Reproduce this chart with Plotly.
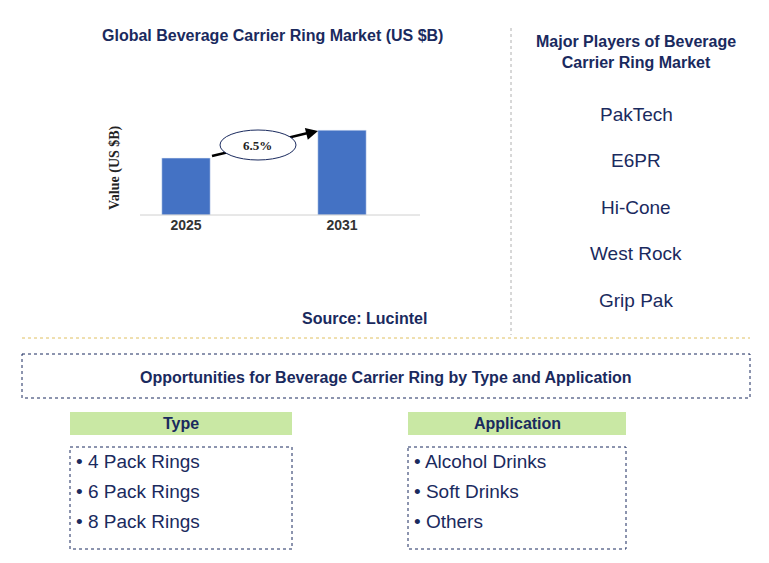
import plotly.graph_objects as go

years = ["2025", "2031"]
values = [2.0, 2.98]
cagr = "6.5%"
players = ["PakTech", "E6PR", "Hi-Cone", "West Rock", "Grip Pak"]
types = ["4 Pack Rings", "6 Pack Rings", "8 Pack Rings"]
apps = ["Alcohol Drinks", "Soft Drinks", "Others"]

W, H = 769, 563
NAVY = "#1a2a5e"
OFF = 8
def X(p): return (p - OFF) / W
def Y(p): return 1 - (p - OFF) / H

fig = go.Figure(go.Bar(x=years, y=values, marker_color="#4472c4", width=0.31))
fig.update_layout(
    width=W, height=H, margin=dict(l=0, r=0, t=0, b=0),
    paper_bgcolor="white", plot_bgcolor="white", showlegend=False,
    xaxis=dict(domain=[X(108), X(420)], range=[-0.5, 1.5], type="category",
               tickvals=years, ticktext=[f"<b>{y}</b>" for y in years],
               showline=False, ticks="", tickfont=dict(family="Arial", size=14, color="#333"), showgrid=False),
    yaxis=dict(domain=[Y(215), Y(100)], range=[0, 4.04], showticklabels=False,
               showgrid=False, zeroline=False, showline=False),
)
shapes = [
    dict(type="line", xref="paper", yref="paper", x0=X(140), x1=X(420), y0=Y(215), y1=Y(215),
         line=dict(color="#d0d0d0", width=1)),
    dict(type="line", xref="paper", yref="paper", x0=X(511), x1=X(511), y0=Y(28), y1=Y(335),
         line=dict(color="#b0b0b0", width=1, dash="dot")),
    dict(type="line", xref="paper", yref="paper", x0=X(22), x1=X(750), y0=Y(338), y1=Y(338),
         line=dict(color="#e0c060", width=1, dash="dot")),
    dict(type="rect", xref="paper", yref="paper", x0=X(22), x1=X(750), y0=Y(354), y1=Y(398),
         line=dict(color=NAVY, width=1, dash="dot")),
    dict(type="line", xref="paper", yref="paper", x0=X(212), x1=X(312), y0=Y(156), y1=Y(132),
         line=dict(color="black", width=2.5)),
    dict(type="circle", xref="paper", yref="paper", x0=X(220), x1=X(296), y0=Y(130), y1=Y(160),
         line=dict(color=NAVY, width=1), fillcolor="white", layer="above"),
]
for x0, x1 in [(70, 292), (408, 626)]:
    shapes.append(dict(type="rect", xref="paper", yref="paper", x0=X(x0), x1=X(x1), y0=Y(412), y1=Y(435),
                       line=dict(width=0), fillcolor="#c9e8a4"))
    shapes.append(dict(type="rect", xref="paper", yref="paper", x0=X(x0), x1=X(x1), y0=Y(447), y1=Y(549),
                       line=dict(color=NAVY, width=1, dash="dot")))
fig.update_layout(shapes=shapes)

ann = []
def T(text, x, y, size, bold=False, xanchor="center", family="Arial", color=NAVY, angle=0):
    ann.append(dict(text=f"<b>{text}</b>" if bold else text, x=X(x), y=Y(y), xref="paper", yref="paper",
                    showarrow=False, xanchor=xanchor, yanchor="middle", textangle=angle,
                    font=dict(family=family, size=size, color=color)))

ann.append(dict(x=X(318), y=Y(131), ax=-12, ay=3, xref="paper", yref="paper", axref="pixel", ayref="pixel",
                showarrow=True, arrowhead=2, arrowsize=1.2, arrowwidth=2, arrowcolor="black", text=""))
T("Global Beverage Carrier Ring Market (US $B)", 272, 35, 16, True)
T("Value (US $B)", 115, 168, 14, True, family="Times New Roman", color="#222", angle=-90)
T(cagr, 258, 145, 13, True, family="Times New Roman", color="#222")
T("Source: Lucintel", 364, 318, 16, True)
T("Major Players of Beverage<br>Carrier Ring Market", 636, 52, 16, True)
for i, p in enumerate(players):
    T(p, 636, 114 + i * 46.5, 19)
T("Opportunities for Beverage Carrier Ring by Type and Application", 386, 377, 16, True)
T("Type", 181, 423, 16, True)
T("Application", 517, 423, 16, True)
for i, t in enumerate(types):
    T("• " + t, 74, 461 + i * 30, 19, xanchor="left")
for i, a in enumerate(apps):
    T("• " + a, 412, 461 + i * 30, 19, xanchor="left")
fig.update_layout(annotations=ann)
fig.write_html("out.html")
